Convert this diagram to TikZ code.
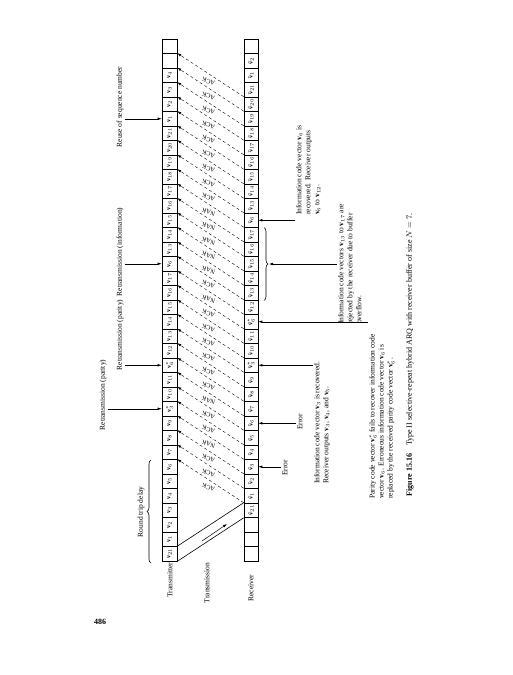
\documentclass[tikz,border=0pt]{standalone}
\usepackage{fontspec}
\setmainfont{Liberation Serif}
\usetikzlibrary{arrows.meta,decorations.pathreplacing,calc}
\newcommand{\myv}[1]{$\mathbf{v}_{#1}$}
\newcommand{\myvs}[1]{$\mathbf{v}^{*}_{#1}$}
\newcommand{\myr}[1]{$\tilde{\mathbf{v}}_{#1}$}
\newcommand{\myrs}[1]{$\tilde{\mathbf{v}}^{*}_{#1}$}
\begin{document}
\begin{tikzpicture}[x=1pt,y=-1pt,
  cellbox/.style={draw, rotate=90, minimum width=14.5pt, minimum height=15pt, inner sep=0pt, line width=0.6pt, font=\fontsize{6.2}{6.2}\selectfont},
  rcellbox/.style={cellbox, minimum height=14pt},
  ackline/.style={dashed, dash pattern=on 3pt off 2.5pt, line width=0.4pt, -{Latex[length=4pt,width=2.6pt]}},
  acklab/.style={rotate=162, font=\fontsize{6.3}{6.3}\selectfont, inner sep=0.5pt},
  lbl/.style={rotate=90, font=\fontsize{7.5}{9}\selectfont, inner sep=1pt},
  ann/.style={rotate=90, align=left, font=\fontsize{7.5}{9}\selectfont, inner sep=1pt},
  pointer/.style={line width=0.5pt, -{Latex[length=4pt,width=2.6pt]}}
]
\useasboundingbox[fill=white] (0,0) rectangle (512,675);

% transmitter column
\foreach \lab [count=\n] in {{}, {}, \myv{4}, \myv{3}, \myv{2}, \myv{1}, \myv{21}, \myv{20}, \myv{19}, \myv{18}, \myv{17}, \myv{16}, \myv{15}, \myv{14}, \myv{13}, \myv{6}, \myv{17}, \myv{16}, \myv{15}, \myv{14}, \myv{13}, \myv{12}, \myvs{6}, \myv{11}, \myv{10}, \myvs{3}, \myv{9}, \myv{8}, \myv{7}, \myv{6}, \myv{5}, \myv{4}, \myv{3}, \myv{2}, \myv{1}, \myv{21}}
  {\node[cellbox] (t\n) at (169.5, {39+(\n-0.5)*14.5}) {\lab};}

% receiver column
\foreach \lab [count=\n] in {{}, \myr{2}, \myr{1}, \myr{21}, \myr{20}, \myr{19}, \myr{18}, \myr{17}, \myr{16}, \myr{15}, \myr{14}, \myr{13}, \myr{6}, \myr{17}, \myr{16}, \myr{15}, \myr{14}, \myr{13}, \myr{12}, \myrs{6}, \myr{11}, \myr{10}, \myrs{3}, \myr{9}, \myr{8}, \myr{7}, \myr{6}, \myr{5}, \myr{4}, \myr{3}, \myr{2}, \myr{1}, \myr{21}, {}, {}, {}}
  {\node[rcellbox] (r\n) at (251, {39+(\n-0.5)*14.5}) {\lab};}

% ACK / NAK lines
\foreach \i/\w in {2/ACK,3/ACK,4/ACK,5/ACK,6/ACK,7/ACK,8/ACK,9/ACK,10/ACK,11/NAK,12/NAK,13/NAK,14/NAK,15/NAK,16/ACK,17/NAK,18/ACK,19/ACK,20/ACK,21/ACK,22/ACK,23/ACK,24/NAK,25/ACK,26/ACK,27/NAK,28/ACK,29/ACK,30/ACK}
{
  \pgfmathtruncatemacro\k{\i+3}
  \draw[ackline] (r\k.north east) -- (t\i.south east);
  \node[acklab] (lab\i) at ($(r\k.north east)!0.5!(t\i.south east)+(-2,6.5)$) {\w};
}

% transmission
\draw[line width=0.6pt] (t36.south east) -- (r33.north east);
\draw[line width=0.6pt] (t36.south west) -- (r33.north west);
\coordinate (ta) at (202,541);
\coordinate (tb) at (227,524);
\draw[line width=0.5pt, -{Latex[length=4pt,width=2.6pt]}] (ta) -- (tb);

% labels
\node[lbl] (ltx) at (170,580) {Transmitter};
\node[lbl] (ltr) at (207,583) {Transmission};
\node[lbl] (lrx) at (251,588) {Receiver};

\node[lbl] (lrt) at (141,512) {Round trip delay};
\draw[line width=0.6pt, decorate, decoration={brace, amplitude=4pt}] (151,563) -- (151,460);

\node[lbl] (lreuse) at (120,107) {Reuse of sequence number};
\node[lbl] (lrinfo) at (120,252) {Retransmission (information)};
\node[lbl] (lrpar1) at (120,335) {Retransmission (parity)};
\node[lbl] (lrpar2) at (103,395) {Retransmission (parity)};
\draw[pointer] (lreuse.south |- t6.north) -- (t6.north);
\draw[pointer] (lrinfo.south |- t16.north) -- (t16.north);
\draw[pointer] (lrpar1.south |- t23.north) -- (t23.north);
\draw[pointer] (lrpar2.south |- t26.north) -- (t26.north);

% right side annotations
\node[lbl] (err1) at (285,468) {Error};
\node[lbl] (err2) at (300,422) {Error};
\draw[pointer] (err1.north |- r30.south) -- (r30.south);
\draw[pointer] (err2.north |- r27.south) -- (r27.south);

\node[ann, anchor=north west] (rec3) at (313,485) {Information code vector \myv{3} is recovered.\\Receiver outputs \myv{3}, \myv{4}, and \myv{5}.};
\draw[pointer] (rec3.north |- r23.south) -- (r23.south);

\node[ann, anchor=north west] (rec6) at (295,216) {Information code vector \myv{6} is\\recovered. Receiver outputs\\\myv{6} to \myv{12}.};
\draw[pointer] (rec6.north west |- r13.south) -- (r13.south);

\coordinate (b1) at (264,227.5);
\coordinate (b2) at (264,300.5);
\draw[line width=0.6pt, decorate, decoration={brace, amplitude=4pt}] (b1) -- (b2);
\coordinate (bratip) at (269,264);
\node[ann, anchor=north] (rej) at (337,264) {Information code vectors \myv{13} to \myv{17} are\\rejected by the receiver due to buffer\\overflow.};
\draw[pointer] (rej.north) -- (bratip);

\node[ann, anchor=north west] (par) at (368,500) {Parity code vector \myvs{6} fails to recover information code\\vector \myv{6}. Erroneous information code vector \myv{6} is\\replaced by the received parity code vector \myvs{6}.};
\draw[pointer] (par.north |- r20.south) -- (r20.south);

\node[rotate=90, anchor=west, font=\fontsize{8}{9}\selectfont] (cap) at (410,500) {\textbf{Figure 15.16}\quad Type II selective-repeat hybrid ARQ with receiver buffer of size $N=7$.};

\node[font=\fontsize{8}{9}\selectfont\bfseries] (page) at (100,622) {486};
\end{tikzpicture}
\end{document}
